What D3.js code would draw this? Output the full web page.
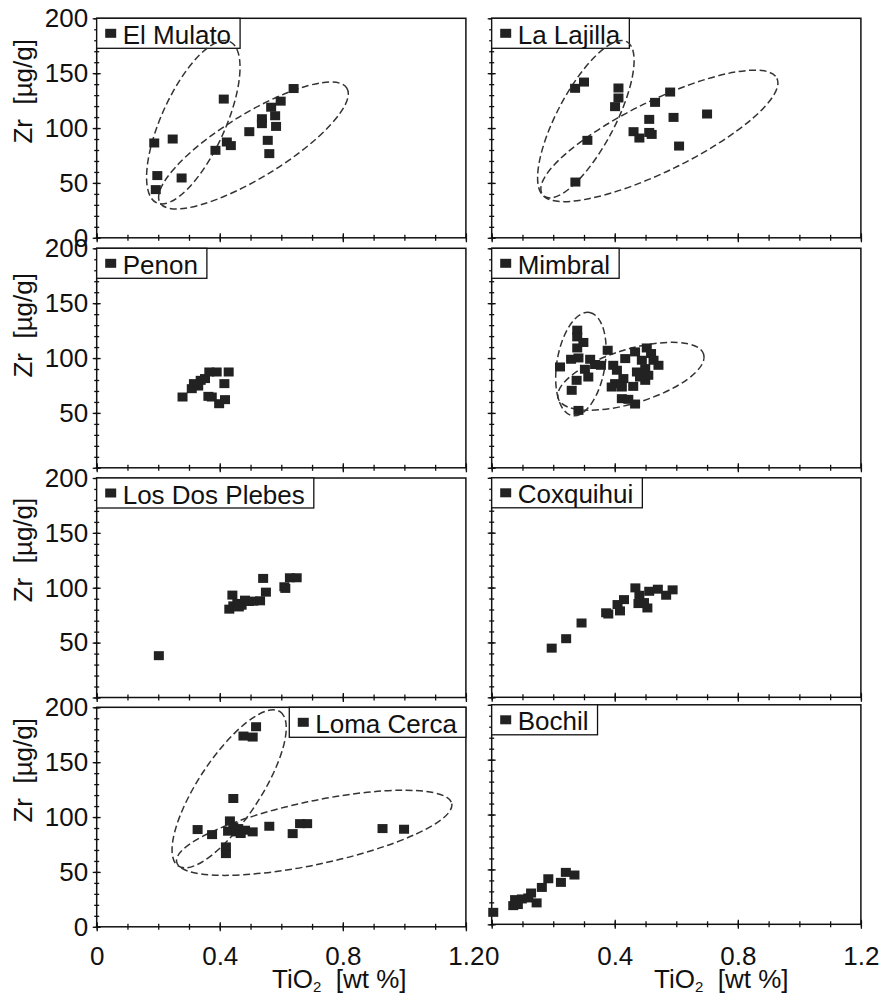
<!DOCTYPE html>
<html>
<head>
<meta charset="utf-8">
<script src="https://cdn.jsdelivr.net/npm/d3@7"></script>
<style>
  body { margin: 0; background: #fff; }
  svg { display: block; }
  text { font-family: "Liberation Sans", Arial, sans-serif; fill: #111; white-space: pre; }
</style>
</head>
<body>
<svg id="chart" width="881" height="994"></svg>
<script>
// ---- Axis ticks -------------------------------------------------------
const xMajorTicks = [0, 0.4, 0.8, 1.2];
const yMajorTicks = [0, 50, 100, 150, 200];
const xLabel = "TiO";
const yLabel = "Zr  [µg/g]";

// ---- Samples: [TiO2 wt %, Zr µg/g] -----------------------------------
const elMulato = [[0.187,86.4],[0.247,90],[0.197,56.7],[0.192,43.9],[0.276,54.5],[0.386,79.7],
  [0.413,126.4],[0.423,87.3],[0.436,84],[0.496,96.7],[0.537,108.5],[0.537,104],[0.556,88.8],
  [0.561,76.7],[0.567,119],[0.580,111.2],[0.583,101.5],[0.598,124.5],[0.640,136]];

const laLajilla = [[0.271,136.2],[0.300,141.9],[0.412,136.5],[0.412,127.4],[0.401,119.5],
  [0.311,88.8],[0.272,50.8],[0.461,96.7],[0.480,90.9],[0.512,96],[0.520,94.2],[0.512,107.9],
  [0.531,123.4],[0.580,132.8],[0.591,109.7],[0.609,83.6],[0.700,112.8]];

const penon = [[0.279,64.5],[0.309,72.1],[0.316,76.7],[0.338,79.7],[0.330,74.5],[0.352,81.3],
  [0.366,87.3],[0.390,87.3],[0.429,87.3],[0.415,76.7],[0.363,65.1],[0.374,64.5],[0.398,58.4],
  [0.417,62.1]];

const mimbral = [[0.278,125.4],[0.278,119.3],[0.298,114.2],[0.278,109.2],[0.377,107.1],
  [0.258,98.9],[0.282,100.1],[0.222,91.9],[0.320,98.9],[0.336,94.1],[0.303,89.8],[0.355,93.4],
  [0.314,82.7],[0.276,79.7],[0.260,70.6],[0.282,52.3],[0.395,93.4],[0.407,88.9],[0.434,99.5],
  [0.466,105.6],[0.504,109.2],[0.518,104.1],[0.488,98],[0.526,98],[0.542,93.4],[0.499,90.4],
  [0.472,87.3],[0.401,76.7],[0.428,81.3],[0.390,73.6],[0.423,73.6],[0.460,74.2],[0.499,79.7],
  [0.423,63],[0.444,62.4],[0.466,58.1],[0.509,84.3],[0.482,82.7]];

const losDosPlebes = [[0.202,38.1],[0.431,80.5],[0.441,93.3],[0.444,83.5],[0.457,85.7],
  [0.471,84.1],[0.482,88.7],[0.495,87.5],[0.509,87.8],[0.531,88.1],[0.541,108.5],[0.550,96],
  [0.610,100.9],[0.613,99.4],[0.628,109.1],[0.650,109.1],[0.462,82.5]];

const coxquihui = [[0.195,44.8],[0.242,53.4],[0.292,67.7],[0.379,75.9],[0.372,77],[0.409,84.5],
  [0.417,78.7],[0.430,89],[0.467,99.7],[0.480,93],[0.477,85.4],[0.495,86.3],[0.506,81.4],
  [0.512,96.6],[0.540,98.5],[0.567,93],[0.588,97.9]];

const lomaCerca = [[0.328,88.6],[0.375,84],[0.420,72.8],[0.420,66.7],[0.427,87.1],[0.433,96.5],
  [0.444,116.9],[0.444,91],[0.455,86.5],[0.460,89.5],[0.468,85],[0.482,88],[0.507,86.5],
  [0.477,173.8],[0.507,172.9],[0.518,182.3],[0.561,91.6],[0.637,84.9],[0.661,94],[0.684,94],
  [0.929,89.5],[0.999,88.9]];

const bochil = [[0.005,10.9],[0.070,17],[0.076,22.5],[0.098,23.1],[0.119,24],[0.128,28.5],
  [0.146,19.5],[0.163,33.6],[0.184,41.5],[0.225,38.2],[0.241,47.3],[0.269,44.9],[0.085,18]];

// ---- Grouping fields: major-axis end points in data units + axis ratio --
const elMulatoFields = [
  { from: [0.195, 31.8], to: [0.433, 178.8], ratio: 0.36 },
  { from: [0.206, 31.8], to: [0.813, 136.4], ratio: 0.29 }
];
const laLajillaFields = [
  { from: [0.173, 37.4], to: [0.439, 178.7], ratio: 0.33 },
  { from: [0.163, 40.4], to: [0.927, 145.3], ratio: 0.27 }
];
const mimbralFields = [
  { from: [0.262, 47.5], to: [0.318, 141.5], ratio: 0.46 },
  { from: [0.216, 63.3], to: [0.689, 103.5], ratio: 0.355 }
];
const lomaCercaFields = [
  { from: [0.265, 55.4], to: [0.596, 196], ratio: 0.335 },
  { from: [0.260, 59], to: [1.154, 112.3], ratio: 0.225 }
];

const sites = [
  { name: "El Mulato",      points: elMulato,     fields: elMulatoFields,  legend: "left" },
  { name: "La Lajilla",     points: laLajilla,    fields: laLajillaFields, legend: "left" },
  { name: "Penon",          points: penon,        fields: [],              legend: "left" },
  { name: "Mimbral",        points: mimbral,      fields: mimbralFields,   legend: "left" },
  { name: "Los Dos Plebes", points: losDosPlebes, fields: [],              legend: "left" },
  { name: "Coxquihui",      points: coxquihui,    fields: [],              legend: "left" },
  { name: "Loma Cerca",     points: lomaCerca,    fields: lomaCercaFields, legend: "right" },
  { name: "Bochil",         points: bochil,       fields: [],              legend: "left" }
];

// ---- Layout -----------------------------------------------------------
const colLeft = [96.7, 491.7];
const panelW = 369.2;
const panelH = 219.5;
const rowTop = [[18.3, 248.3, 478, 707.3], [18.3, 248.3, 477.8, 704.8]];
const yTitleOffset = [73, 77, 72, 63];
const xTitleStart = [272, 654];
const fontSize = 26;
const markW = 10, markH = 9;
const ink = "#222";

const svg = d3.select("#chart");

sites.forEach((site, i) => {
  const col = i % 2, row = Math.floor(i / 2);
  const left = colLeft[col], top = rowTop[col][row];
  const x = d3.scaleLinear().domain([0, 1.2]).range([left, left + panelW]);
  const y = d3.scaleLinear().domain([0, 200]).range([top + panelH, top]);
  const g = svg.append("g").attr("class", "panel");

  // frame
  g.append("rect").attr("x", left).attr("y", top)
    .attr("width", panelW).attr("height", panelH)
    .attr("fill", "none").attr("stroke", "#111").attr("stroke-width", 1.5);

  // ticks crossing the axes (minor and major, outward and inward)
  const tickSets = [
    { axis: d3.axisLeft(y).tickValues(d3.range(0, 201, 10)), out: 2.5, inn: 2.5 },
    { axis: d3.axisLeft(y).tickValues(yMajorTicks), out: 4, inn: 4 },
  ];
  tickSets.forEach(t => {
    [t.out, -t.inn].forEach(sz => {
      const a = g.append("g").attr("transform", `translate(${left},0)`)
        .call(t.axis.tickSize(sz).tickFormat(""));
      a.select(".domain").remove();
      a.selectAll("line").attr("stroke", "#111").attr("stroke-width", 1.3);
    });
  });
  const xSets = [
    { axis: d3.axisBottom(x).tickValues(d3.range(0, 12.01, 1).map(v => v / 10)), out: 3, inn: 3 },
    { axis: d3.axisBottom(x).tickValues(xMajorTicks), out: 4.5, inn: 4.5 },
  ];
  xSets.forEach(t => {
    [t.out, -t.inn].forEach(sz => {
      const a = g.append("g").attr("transform", `translate(0,${top + panelH})`)
        .call(t.axis.tickSize(sz).tickFormat(""));
      a.select(".domain").remove();
      a.selectAll("line").attr("stroke", "#111").attr("stroke-width", 1.3);
    });
  });

  // y tick labels and title, left column only
  if (col === 0) {
    const shown = (row === 0 || row === 3) ? yMajorTicks : yMajorTicks.filter(v => v > 0);
    const ya = g.append("g").attr("transform", `translate(${left},0)`)
      .call(d3.axisLeft(y).tickValues(shown).tickSize(0).tickPadding(8.5).tickFormat(d3.format("d")));
    ya.select(".domain").remove();
    ya.selectAll("text").attr("font-size", fontSize)
      .attr("font-family", '"Liberation Sans", Arial, sans-serif').attr("fill", "#111");

    g.append("text")
      .attr("transform", `translate(32,${top + yTitleOffset[row]}) rotate(-90)`)
      .attr("text-anchor", "middle").attr("font-size", fontSize)
      .text(yLabel);
  }

  // x tick labels and title, bottom row only
  if (row === 3) {
    const xa = g.append("g").attr("transform", `translate(0,${top + panelH})`)
      .call(d3.axisBottom(x).tickValues(xMajorTicks).tickSize(0).tickPadding(0)
        .tickFormat(d => d === 0 ? "0" : d3.format(".1f")(d)));
    xa.select(".domain").remove();
    xa.selectAll("text").attr("font-size", fontSize).attr("dy", null)
      .attr("y", 965 - (top + panelH))
      .attr("font-family", '"Liberation Sans", Arial, sans-serif').attr("fill", "#111");

    const t = g.append("text").attr("x", xTitleStart[col]).attr("y", 988)
      .attr("font-size", fontSize);
    t.append("tspan").text(xLabel);
    t.append("tspan").attr("font-size", 15).attr("dy", 4).text("2");
    t.append("tspan").attr("dy", -4).text("  [wt %]");
  }

  // legend box
  const lg = g.append("g");
  const label = lg.append("text").attr("font-size", fontSize).text(site.name);
  const tw = label.node().getComputedTextLength();
  const boxW = 26 + tw + 9, boxH = 30;
  const bx = site.legend === "right" ? left + panelW - boxW : left;
  const by = top;
  lg.insert("rect", "text").attr("x", bx).attr("y", by).attr("width", boxW).attr("height", boxH)
    .attr("fill", "#fff").attr("stroke", "#111").attr("stroke-width", 1.3);
  lg.insert("rect", "text").attr("x", bx + 8.5).attr("y", by + 10.5).attr("width", 11).attr("height", 9)
    .attr("fill", ink);
  label.attr("x", bx + 26).attr("y", by + 25.5);

  // dashed grouping fields
  site.fields.forEach(f => {
    const p1 = [x(f.from[0]), y(f.from[1])];
    const p2 = [x(f.to[0]), y(f.to[1])];
    const cx = (p1[0] + p2[0]) / 2, cy = (p1[1] + p2[1]) / 2;
    const rx = Math.hypot(p2[0] - p1[0], p2[1] - p1[1]) / 2;
    const ang = Math.atan2(p2[1] - p1[1], p2[0] - p1[0]) * 180 / Math.PI;
    g.append("ellipse").attr("cx", cx).attr("cy", cy).attr("rx", rx).attr("ry", rx * f.ratio)
      .attr("transform", `rotate(${ang},${cx},${cy})`)
      .attr("fill", "none").attr("stroke", "#333").attr("stroke-width", 1.5)
      .attr("stroke-dasharray", "7,3.5");
  });

  // sample markers
  g.append("g").selectAll("rect").data(site.points).join("rect")
    .attr("x", d => x(d[0]) - markW / 2).attr("y", d => y(d[1]) - markH / 2)
    .attr("width", markW).attr("height", markH).attr("fill", ink);
});
</script>
</body>
</html>
